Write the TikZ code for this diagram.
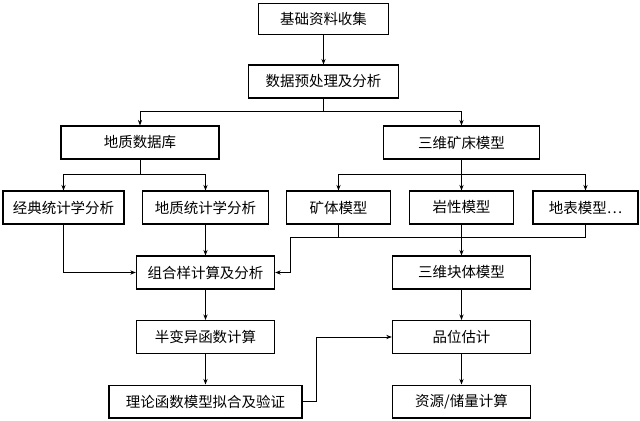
\documentclass[tikz,border=0pt]{standalone}
\usepackage{fontspec}
\newfontfamily\cjk{Noto Sans CJK SC}
\usepackage{tikz}
\usetikzlibrary{arrows.meta, positioning}

\begin{document}
\begin{tikzpicture}[
    x=0.025cm, y=-0.025cm,
    % Define simple, standard styles
    box/.style={rectangle, draw=black, line width=0.85pt, align=center, minimum height=0.82cm, inner sep=0pt, font=\cjk\fontsize{10.3}{12}\selectfont},
    arrow/.style={line width=0.6pt, -{Stealth[length=4pt, width=3pt]}, draw=black},
    line/.style={line width=0.6pt, draw=black}
]
\useasboundingbox (0,0) rectangle (640,421);

% 1. Top Nodes: data collection and preprocessing
\node[box, minimum width=3.25cm, minimum height=0.76cm] (collect) at (323.5, 19) {基础资料收集};
\node[box, minimum width=3.75cm] (prep) at (323.5, 81.5) {数据预处理及分析};

% 2. The two branches
\node[box, minimum width=3.95cm] (geodb) at (140, 142.5) {地质数据库};
\node[box, minimum width=3.9cm] (deposit) at (461.5, 142.5) {三维矿床模型};

% 3. Analysis and sub models
\node[box, minimum width=3.02cm] (classic) at (63.5, 207.5) {经典统计学分析};
\node[box, minimum width=3.15cm] (geostat) at (205.5, 207.5) {地质统计学分析};
\node[box, minimum width=2.58cm] (orebody) at (338.5, 207.5) {矿体模型};
\node[box, minimum width=2.6cm] (litho) at (461.5, 207.5) {岩性模型};
\node[box, minimum width=2.62cm] (surface) at (585.5, 207.5) {地表模型⋯};

% 4. Left column
\node[box, minimum width=3.45cm] (composite) at (205.5, 272.5) {组合样计算及分析};
\node[box, minimum width=3.45cm] (variogram) at (205.5, 337) {半变异函数计算};
\node[box, minimum width=4.82cm] (fitting) at (205.5, 401.5) {理论函数模型拟合及验证};

% 5. Right column
\node[box, minimum width=3.45cm] (block) at (461.5, 272.5) {三维块体模型};
\node[box, minimum width=3.45cm] (grade) at (461.5, 337) {品位估计};
\node[box, minimum width=3.45cm] (reserve) at (461.5, 401.5) {资源/储量计算};

\coordinate (bend) at (290, 237);

% Draw the connecting arrows
\draw[arrow] (collect) -- (prep);
\draw[arrow] (prep.south) -- ++(0,13) -| (geodb.north);
\draw[arrow] (prep.south) -- ++(0,13) -| (deposit.north);
\draw[arrow] (geodb.south) -- ++(0,15) -| (classic.north);
\draw[arrow] (geodb.south) -- ++(0,15) -| (geostat.north);
\draw[arrow] (deposit.south) -- ++(0,15) -| (orebody.north);
\draw[arrow] (deposit.south) -- ++(0,15) -| (surface.north);
\draw[arrow] (deposit) -- (litho);

\draw[arrow] (classic.south) |- (composite.west);
\draw[arrow] (geostat) -- (composite);
\draw[line] (orebody.south) -- (orebody.south |- bend);
\draw[arrow] (surface.south) |- (bend) |- (composite.east);
\draw[arrow] (litho) -- (block);

\draw[arrow] (composite) -- (variogram);
\draw[arrow] (variogram) -- (fitting);
\draw[arrow] (block) -- (grade);
\draw[arrow] (grade) -- (reserve);
\draw[arrow] (fitting.east) -- ++(14,0) |- (grade.west);

\end{tikzpicture}
\end{document}
